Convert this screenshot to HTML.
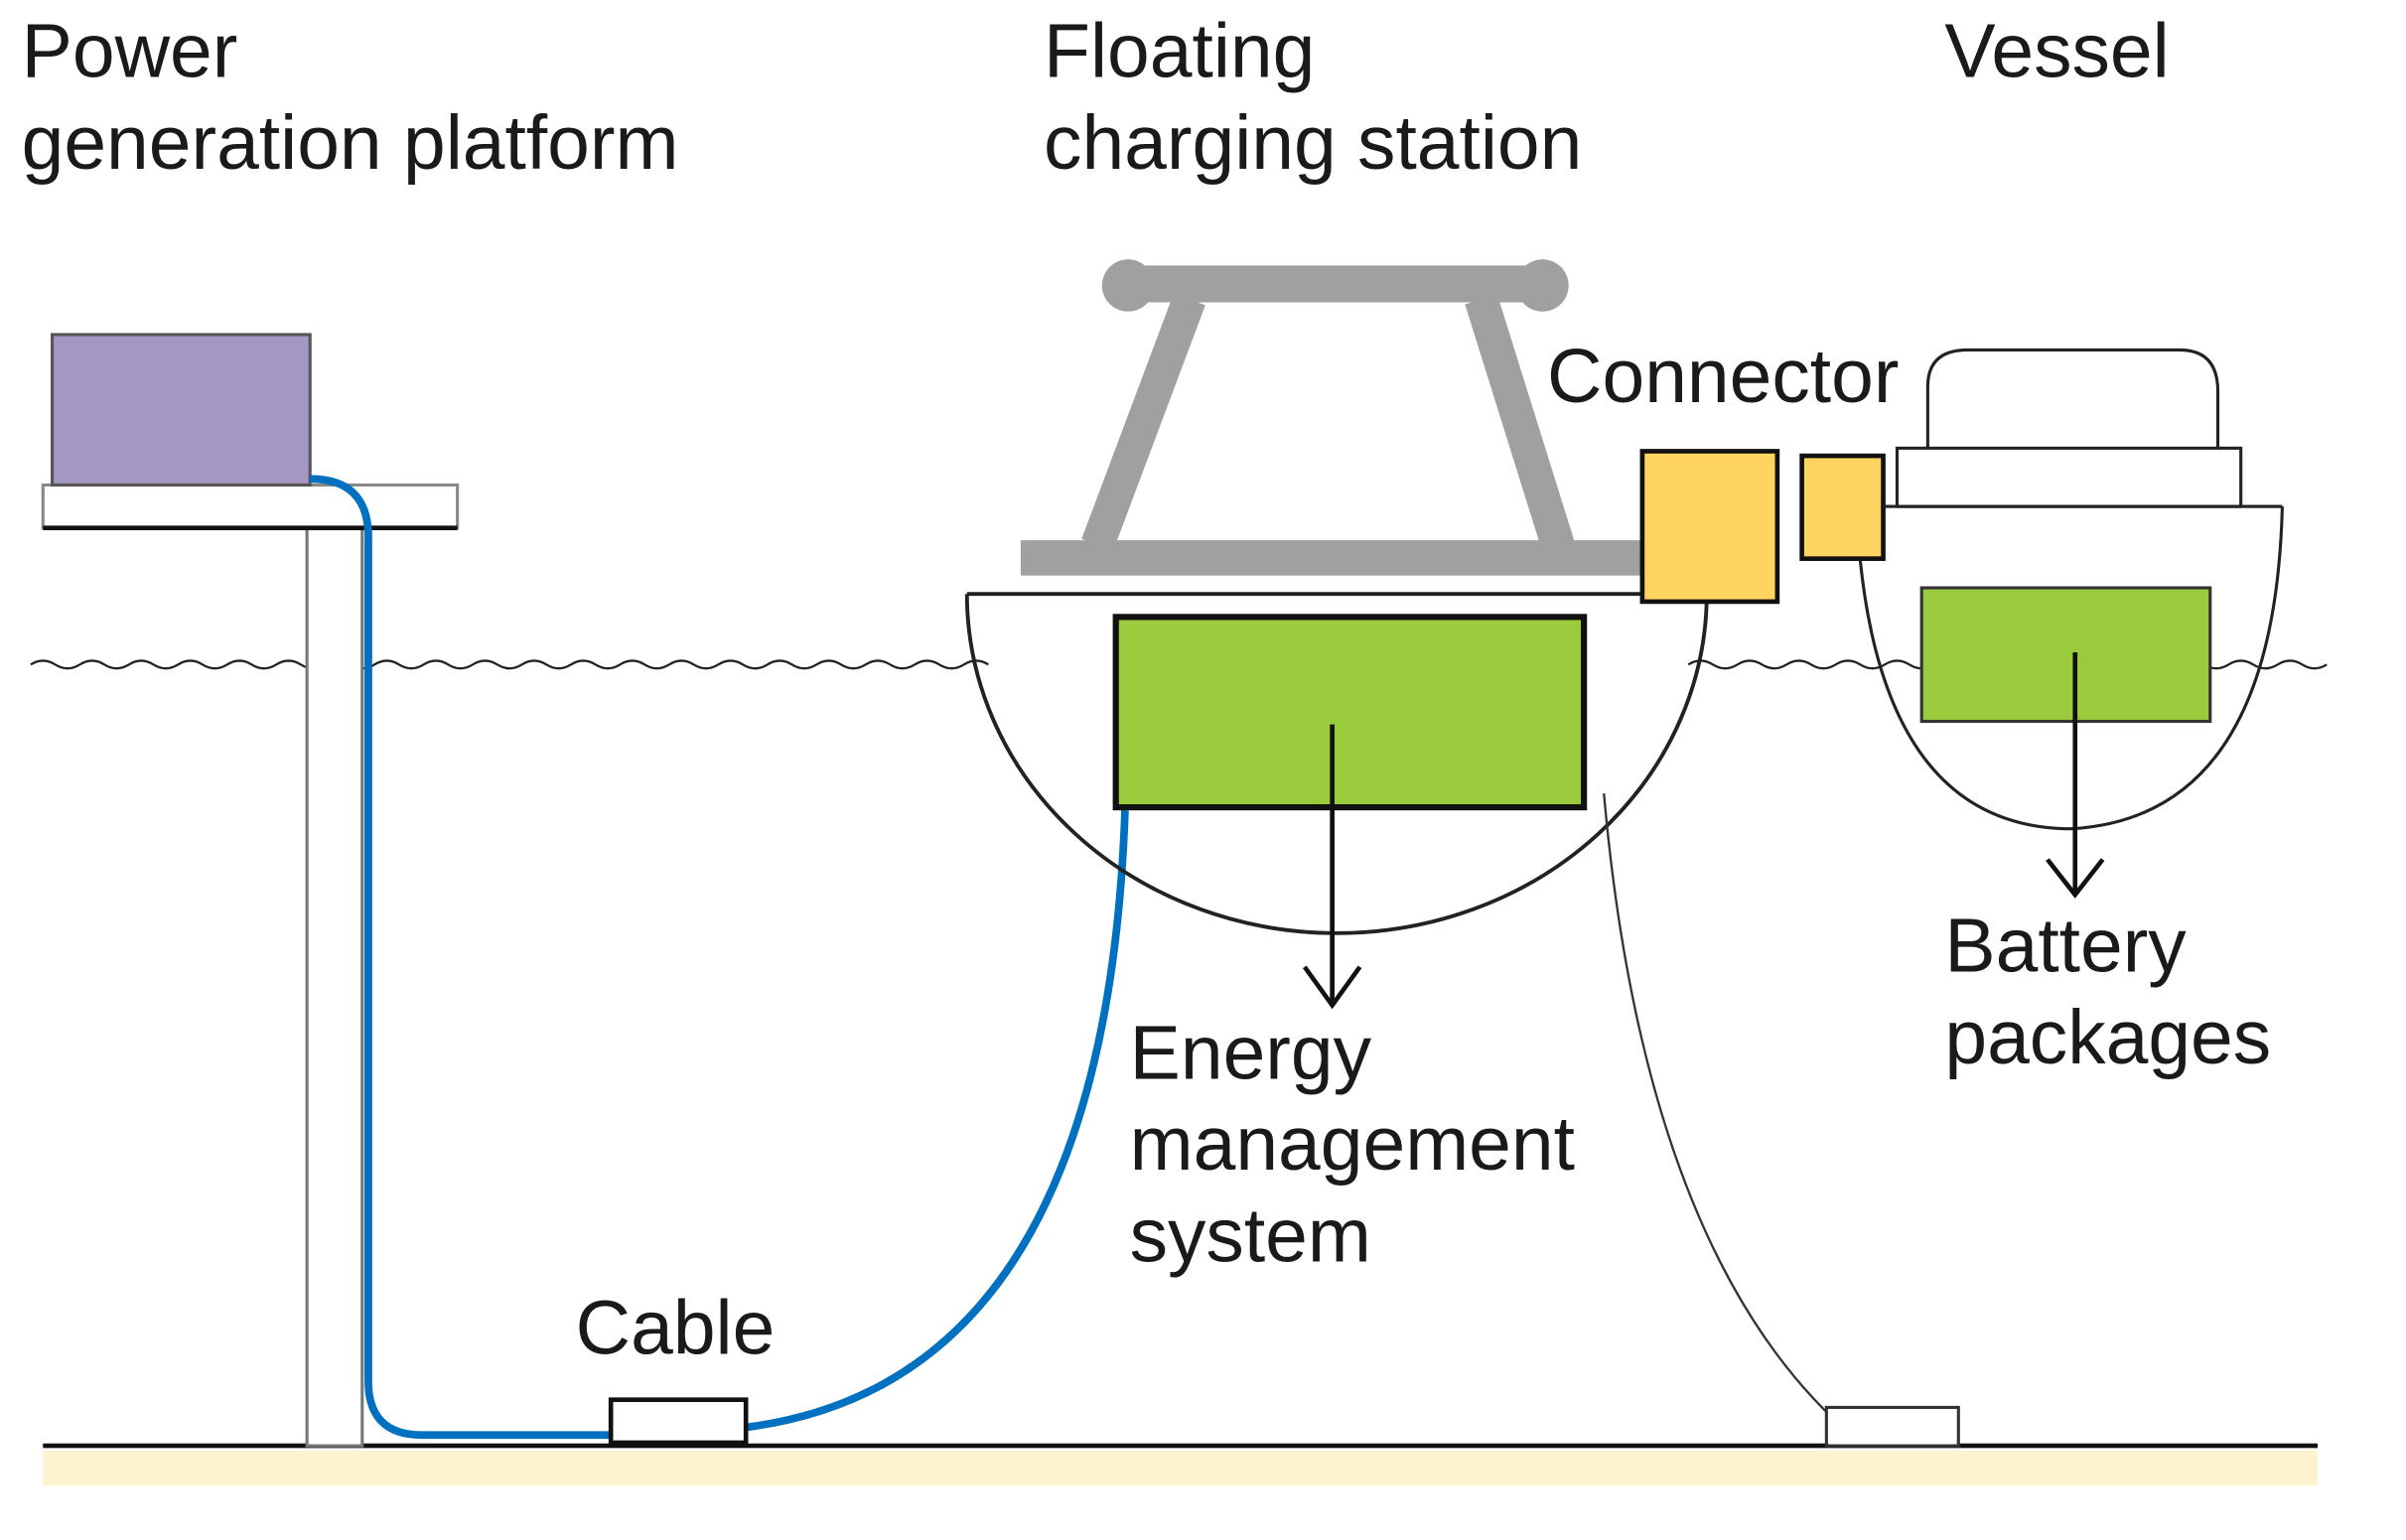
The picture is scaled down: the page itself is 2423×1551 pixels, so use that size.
<!DOCTYPE html>
<html><head><meta charset="utf-8"><style>
html,body{margin:0;padding:0;background:#fff;}
svg{display:block;}
text{font-family:"Liberation Sans",Arial,sans-serif;font-size:49.7px;fill:#1a1a1a;}
</style></head><body>
<svg width="2423" height="1551" viewBox="0 0 1567.6 1003.4" preserveAspectRatio="none" xmlns="http://www.w3.org/2000/svg">
<rect width="1567.6" height="1003.4" fill="#fff"/>
<!-- labels -->
<text x="14" y="50">Power</text>
<text x="14" y="110">generation platform</text>
<text x="680" y="50">Floating</text>
<text x="680" y="110">charging station</text>
<text x="1267" y="50">Vessel</text>
<text x="1008" y="262">Connector</text>
<text x="736" y="703">Energy</text>
<text x="736" y="762">management</text>
<text x="736" y="822">system</text>
<text x="1267" y="633">Battery</text>
<text x="1267" y="693">packages</text>
<text x="375" y="882">Cable</text>
<!-- seabed -->
<rect x="28" y="945" width="1482" height="23" fill="#fdf3d0"/>
<line x1="28" y1="942" x2="1510" y2="942" stroke="#111" stroke-width="3"/>
<!-- water -->
<path d="M20,433 q8,-5 16,0 t16,0 t16,0 t16,0 t16,0 t16,0 t16,0 t16,0 t16,0 t16,0 t16,0 t16,0 t16,0 t16,0 t16,0 t16,0 t16,0 t16,0 t16,0 t16,0 t16,0 t16,0 t16,0 t16,0 t16,0 t16,0 t16,0 t16,0 t16,0 t16,0 t16,0 t16,0 t16,0 t16,0 t16,0 t16,0 t16,0 t16,0 t16,0" fill="none" stroke="#222" stroke-width="1.5"/>
<path d="M1100,433 q8,-5 16,0 t16,0 t16,0 t16,0 t16,0 t16,0 t16,0 t16,0 t16,0 t16,0 t16,0 t16,0 t16,0 t16,0 t16,0 t16,0 t16,0 t16,0 t16,0 t16,0 t16,0 t16,0 t16,0 t16,0 t16,0 t16,0" fill="none" stroke="#222" stroke-width="1.5"/>
<!-- platform -->
<rect x="200" y="344" width="36" height="598" fill="#fff" stroke="#777" stroke-width="2"/>
<rect x="28" y="316" width="270" height="28" fill="#fff" stroke="#888" stroke-width="2"/>
<line x1="28" y1="344" x2="298" y2="344" stroke="#111" stroke-width="3"/>
<rect x="34" y="218" width="168" height="98" fill="#a497c4" stroke="#555" stroke-width="2"/>
<!-- cable -->
<path d="M202,312 Q240,312 240,350 L240,900 Q240,935 275,935 L398,935" fill="none" stroke="#0070c0" stroke-width="5"/>
<path d="M486,930 Q720,900 733,528" fill="none" stroke="#0070c0" stroke-width="5"/>
<rect x="398" y="912" width="88" height="28" fill="#fff" stroke="#111" stroke-width="3"/>
<!-- station frame -->
<line x1="735" y1="185" x2="1005" y2="185" stroke="#a0a0a0" stroke-width="24"/>
<circle cx="735" cy="186" r="17" fill="#a0a0a0"/>
<circle cx="1005" cy="186" r="17" fill="#a0a0a0"/>
<line x1="775" y1="195" x2="715" y2="355" stroke="#a0a0a0" stroke-width="22"/>
<line x1="965" y1="195" x2="1015" y2="355" stroke="#a0a0a0" stroke-width="22"/>
<rect x="665" y="352" width="405" height="23" fill="#a0a0a0"/>
<!-- hull -->
<path d="M630,387 L1112,387" fill="none" stroke="#222" stroke-width="2.5"/>
<path d="M630,387 A241 221 0 0 0 1112 387" fill="none" stroke="#222" stroke-width="2.5"/>
<rect x="727" y="402" width="305" height="124" fill="#9acb3c" stroke="#111" stroke-width="4"/>
<line x1="868" y1="472" x2="868" y2="654" stroke="#111" stroke-width="3"/>
<path d="M850,630 L868,655 L886,630" fill="none" stroke="#111" stroke-width="3"/>
<!-- mooring -->
<path d="M1045,517 Q1070,800 1190,920" fill="none" stroke="#333" stroke-width="1.5"/>
<rect x="1190" y="917" width="86" height="25" fill="#fff" stroke="#333" stroke-width="2"/>
<!-- connectors -->
<rect x="1070" y="294" width="88" height="98" fill="#fed35f" stroke="#111" stroke-width="3"/>
<rect x="1174" y="297" width="53" height="67" fill="#fed35f" stroke="#111" stroke-width="3"/>
<!-- vessel -->
<path d="M1256,292 L1256,252 Q1256,228 1282,228 L1420,228 Q1445,228 1445,255 L1445,292" fill="#fff" stroke="#222" stroke-width="2"/>
<rect x="1236" y="292" width="224" height="38" fill="#fff" stroke="#222" stroke-width="2"/>
<path d="M1227,330 L1487,330" stroke="#222" stroke-width="2"/>
<path d="M1212,365 Q1230,540 1350,540 Q1482,532 1487,330" fill="none" stroke="#222" stroke-width="2"/>
<rect x="1252" y="383" width="188" height="87" fill="#9acb3c" stroke="#333" stroke-width="2"/>
<line x1="1352" y1="425" x2="1352" y2="582" stroke="#111" stroke-width="3"/>
<path d="M1334,560 L1352,583 L1370,560" fill="none" stroke="#111" stroke-width="3"/>
</svg>
</body></html>
